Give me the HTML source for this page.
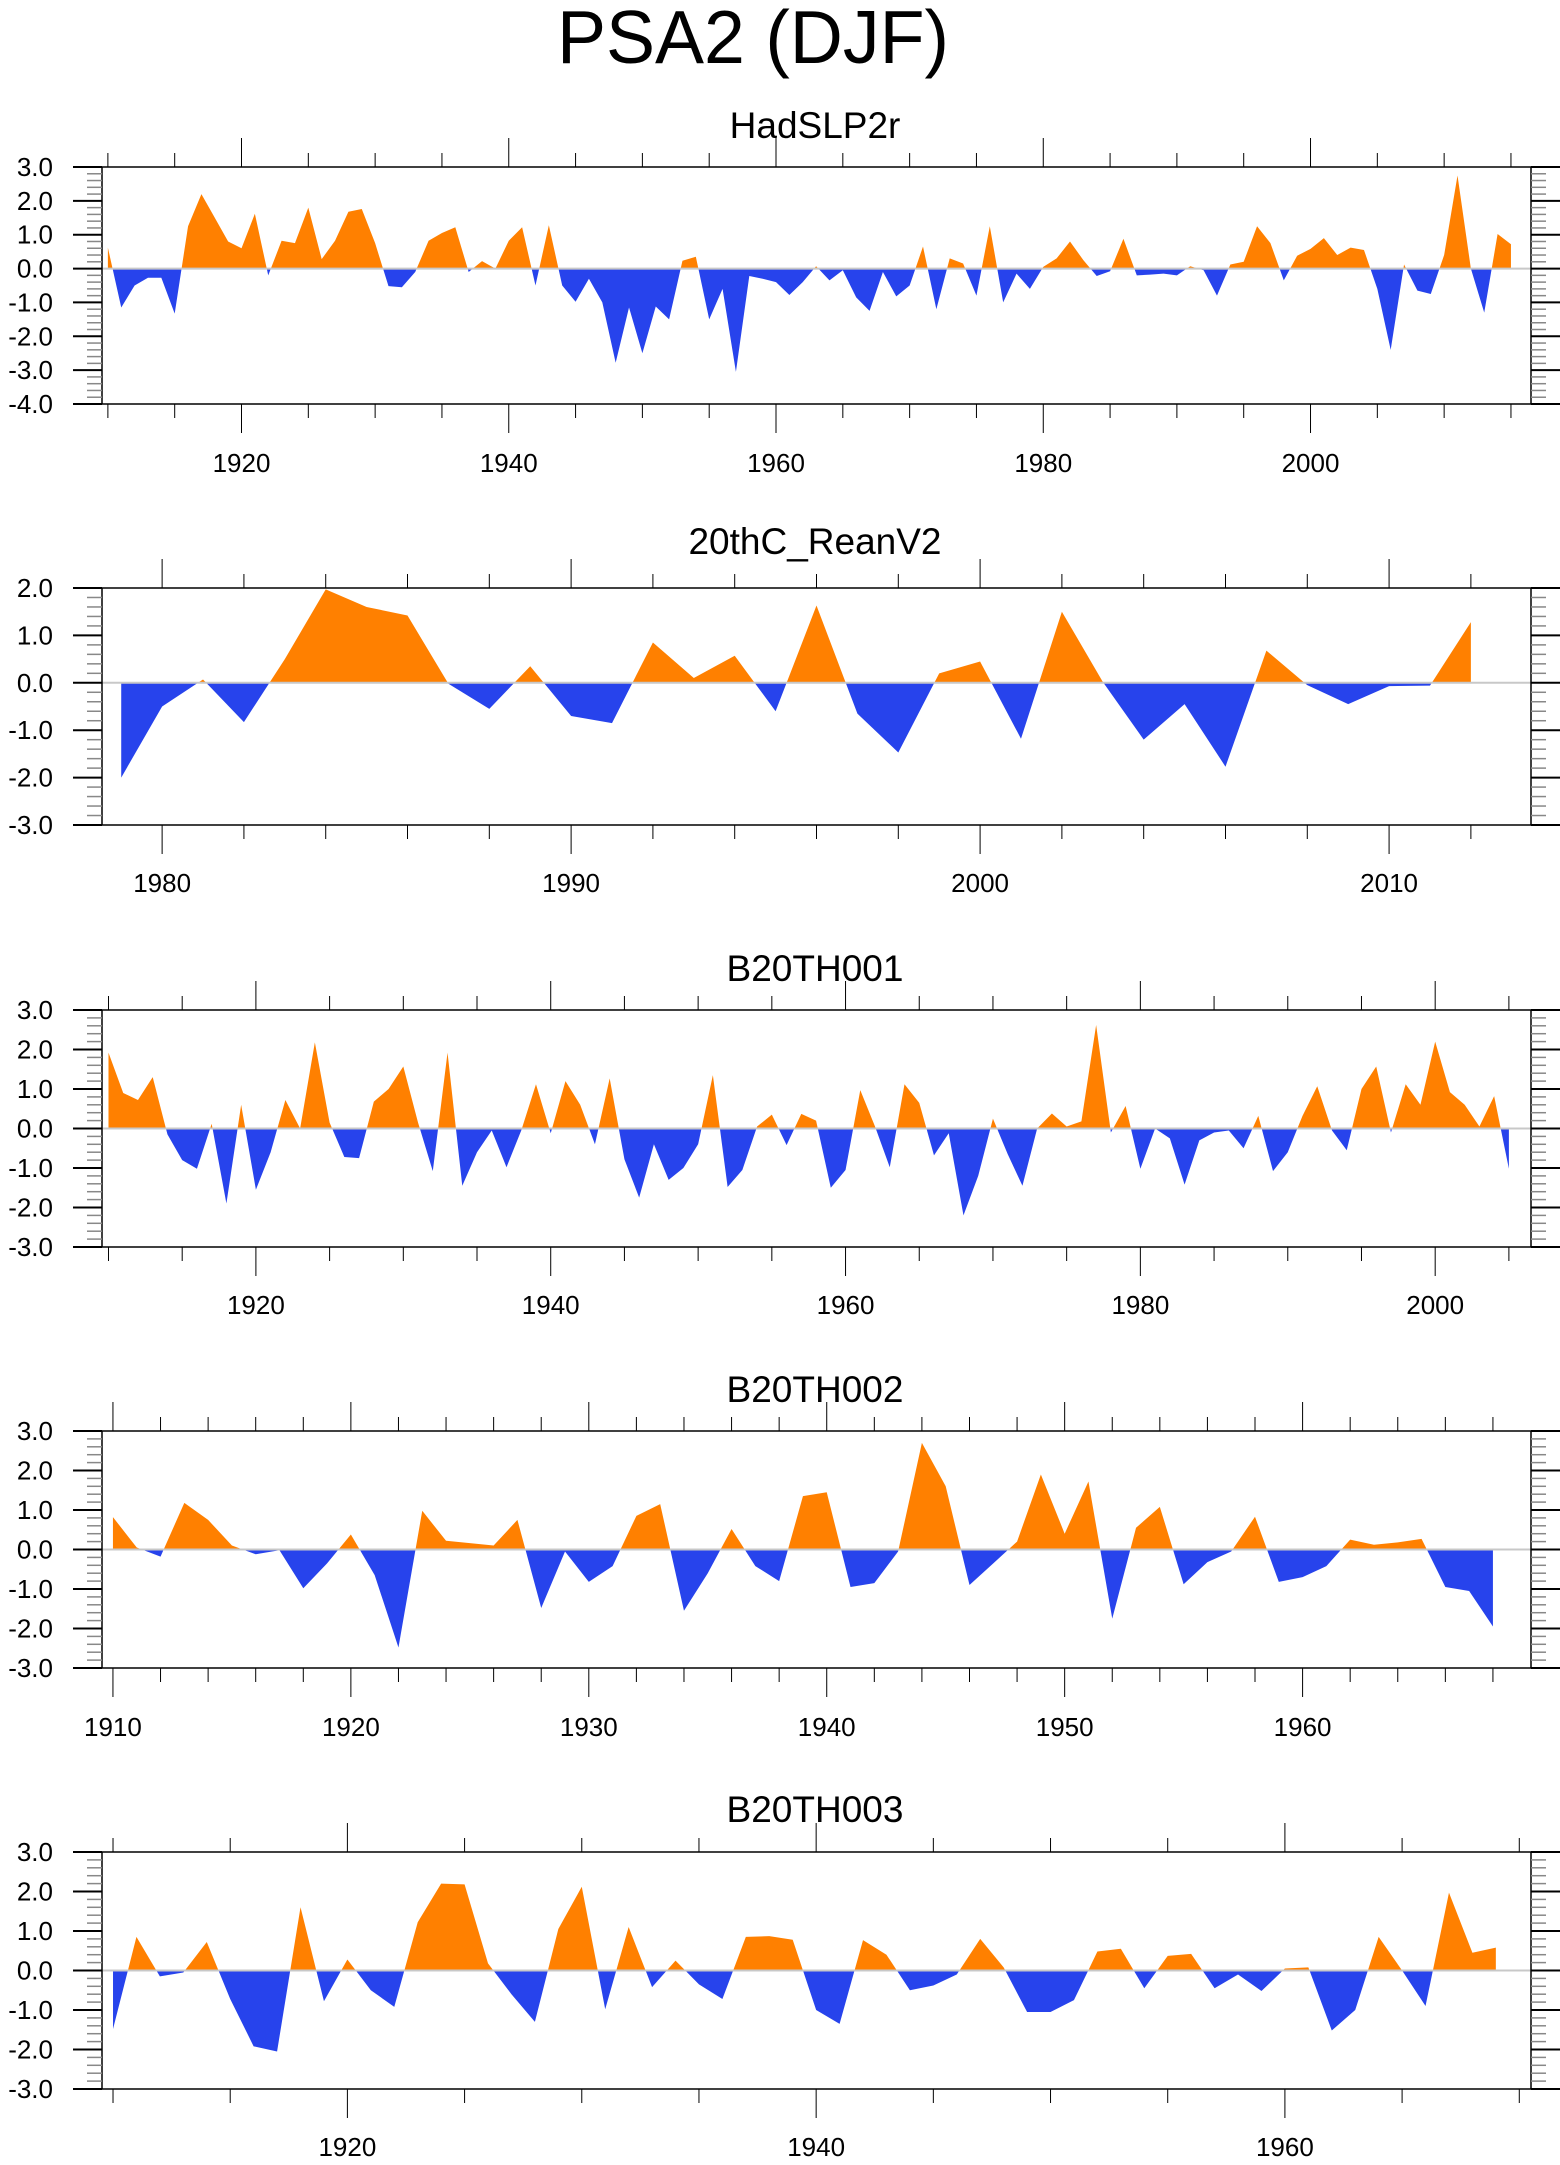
<!DOCTYPE html>
<html><head><meta charset="utf-8"><style>
html,body{margin:0;padding:0;background:#fff}
svg{display:block}
text{font-family:"Liberation Sans",Arial,sans-serif;fill:#000}
</style></head><body>
<svg id="chart" width="1560" height="2165" viewBox="0 0 1560 2165" xmlns="http://www.w3.org/2000/svg">
<text x="753" y="63" font-size="75" text-anchor="middle" textLength="392" lengthAdjust="spacingAndGlyphs">PSA2 (DJF)</text>
</svg>
<script>
const hadStart = 1910;
const hadValues = [0.62,-1.15,-0.5,-0.27,-0.27,-1.33,1.25,2.2,1.5,0.8,0.6,1.62,-0.2,0.82,0.75,1.8,0.28,0.82,1.68,1.76,0.75,-0.52,-0.55,-0.1,0.82,1.05,1.22,-0.1,0.22,0.0,0.82,1.22,-0.5,1.28,-0.5,-0.98,-0.3,-1.0,-2.78,-1.15,-2.5,-1.12,-1.5,0.23,0.35,-1.5,-0.6,-3.05,-0.22,-0.3,-0.4,-0.78,-0.4,0.07,-0.35,-0.05,-0.85,-1.25,-0.1,-0.82,-0.5,0.65,-1.2,0.3,0.15,-0.8,1.25,-1.0,-0.15,-0.6,0.05,0.3,0.8,0.25,-0.22,-0.08,0.88,-0.2,-0.18,-0.15,-0.2,0.07,-0.05,-0.8,0.12,0.2,1.25,0.75,-0.35,0.38,0.58,0.9,0.4,0.62,0.55,-0.6,-2.4,0.12,-0.65,-0.75,0.4,2.75,0.0,-1.3,1.02,0.72];
const reanStart = 1979;
const reanValues = [-2.0,-0.5,0.07,-0.83,0.5,1.97,1.6,1.42,-0.02,-0.55,0.35,-0.7,-0.85,0.85,0.1,0.57,-0.6,1.63,-0.65,-1.47,0.2,0.45,-1.18,1.5,0.02,-1.2,-0.45,-1.77,0.68,-0.05,-0.45,-0.07,-0.06,1.28];
const b1Start = 1910;
const b1Values = [1.92,0.9,0.72,1.3,-0.15,-0.8,-1.02,0.12,-1.9,0.6,-1.55,-0.6,0.72,0.0,2.18,0.15,-0.72,-0.75,0.68,1.0,1.57,0.15,-1.08,1.92,-1.45,-0.6,-0.05,-0.98,-0.05,1.12,-0.12,1.2,0.6,-0.4,1.27,-0.78,-1.75,-0.4,-1.3,-1.0,-0.4,1.35,-1.48,-1.05,0.05,0.35,-0.42,0.37,0.2,-1.5,-1.05,0.97,0.05,-0.98,1.12,0.65,-0.68,-0.12,-2.2,-1.2,0.25,-0.65,-1.45,0.0,0.38,0.05,0.18,2.62,-0.1,0.57,-1.02,0.0,-0.25,-1.42,-0.3,-0.1,-0.05,-0.5,0.32,-1.08,-0.6,0.32,1.07,-0.05,-0.55,1.0,1.57,-0.1,1.12,0.6,2.2,0.92,0.6,0.05,0.82,-1.02];
const b2Start = 1910;
const b2Values = [0.82,0.05,-0.18,1.18,0.75,0.1,-0.12,-0.02,-0.98,-0.35,0.38,-0.65,-2.48,0.98,0.22,0.16,0.1,0.75,-1.48,-0.05,-0.82,-0.42,0.85,1.15,-1.55,-0.6,0.52,-0.42,-0.8,1.35,1.45,-0.95,-0.85,-0.05,2.7,1.6,-0.9,-0.35,0.2,1.9,0.4,1.72,-1.75,0.55,1.08,-0.88,-0.32,-0.05,0.83,-0.82,-0.7,-0.42,0.25,0.12,0.18,0.27,-0.95,-1.05,-1.95];
const b3Start = 1910;
const b3Values = [-1.48,0.85,-0.15,-0.05,0.72,-0.72,-1.92,-2.05,1.6,-0.78,0.28,-0.5,-0.92,1.22,2.2,2.18,0.18,-0.6,-1.3,1.05,2.12,-0.98,1.1,-0.42,0.25,-0.35,-0.72,0.85,0.87,0.78,-1.0,-1.35,0.77,0.4,-0.5,-0.38,-0.1,0.8,0.08,-1.05,-1.05,-0.75,0.48,0.55,-0.45,0.37,0.42,-0.45,-0.1,-0.52,0.05,0.08,-1.52,-1.0,0.85,0.0,-0.9,1.97,0.45,0.58];

const panels = [
 {name:'hadslp2r',title:'HadSLP2r',start:hadStart,vals:hadValues,top:167,bot:404,ymax:3,ymin:-4,x0:1909.56,x1:2016.5,minor:5,major:20,titleY:138,labY:472},
 {name:'20thc-reanv2',title:'20thC_ReanV2',start:reanStart,vals:reanValues,top:588,bot:825,ymax:2,ymin:-3,x0:1978.53,x1:2013.47,minor:2,major:10,titleY:554,labY:892},
 {name:'b20th001',title:'B20TH001',start:b1Start,vals:b1Values,top:1010,bot:1247,ymax:3,ymin:-3,x0:1909.56,x1:2006.5,minor:5,major:20,titleY:981,labY:1314},
 {name:'b20th002',title:'B20TH002',start:b2Start,vals:b2Values,top:1431,bot:1668,ymax:3,ymin:-3,x0:1909.54,x1:1969.6,minor:2,major:10,titleY:1402,labY:1736},
 {name:'b20th003',title:'B20TH003',start:b3Start,vals:b3Values,top:1852,bot:2089,ymax:3,ymin:-3,x0:1909.53,x1:1970.5,minor:5,major:20,titleY:1822,labY:2156}
];
const NS='http://www.w3.org/2000/svg';
const svg=document.getElementById('chart');
const L=102,R=1531;
function mk(tag,attrs,parent){const e=document.createElementNS(NS,tag);for(const k in attrs)e.setAttribute(k,attrs[k]);(parent||svg).appendChild(e);return e;}
panels.forEach((p,pi)=>{
  const g=mk('g',{});
  
  
  const xs=v=>L+(v-p.x0)/(p.x1-p.x0)*(R-L);
  const ys=v=>p.top+(p.ymax-v)/(p.ymax-p.ymin)*(p.bot-p.top);
  const t=mk('text',{x:815,y:p.titleY,'font-size':37,'text-anchor':'middle'},g);
  t.textContent=p.title;
  
  
  const z=ys(0);
  const defs=mk('defs',{},g);
  const ca=mk('clipPath',{id:'ca'+pi},defs); mk('rect',{x:L,y:p.top,width:R-L,height:z-p.top},ca);
  const cb=mk('clipPath',{id:'cb'+pi},defs); mk('rect',{x:L,y:z,width:R-L,height:p.bot-z},cb);
  let d='M'+xs(p.start)+','+z;
  p.vals.forEach((v,i)=>{d+=' L'+xs(p.start+i).toFixed(2)+','+ys(v).toFixed(2);});
  d+=' L'+xs(p.start+p.vals.length-1)+','+z+' Z';
  const pos=mk('path',{d:d,fill:'#ff8000','clip-path':'url(#ca'+pi+')'},g);
  
  
  const neg=mk('path',{d:d,fill:'#2743ec','clip-path':'url(#cb'+pi+')'},g);
  
  
  const zl=mk('line',{x1:L,x2:R,y1:z,y2:z,stroke:'#c8c8c8','stroke-width':2},g);
  
  
  const box=mk('rect',{x:L,y:p.top,width:R-L,height:p.bot-p.top,fill:'none',stroke:'#000','stroke-width':1.5},g);
  
  
  const first=Math.ceil(p.x0/p.minor)*p.minor;
  for(let yr=first;yr<=p.x1;yr+=p.minor){
    const x=xs(yr),maj=yr%p.major===0,len=maj?29:14;
    mk('line',{x1:x,x2:x,y1:p.top,y2:p.top-len,stroke:'#000','stroke-width':1},g);
    mk('line',{x1:x,x2:x,y1:p.bot,y2:p.bot+len,stroke:'#000','stroke-width':1},g);
    if(maj){const tl=mk('text',{x:x,y:p.labY,'font-size':26,'text-anchor':'middle'},g);tl.textContent=yr;
      
      }
  }
  for(let k=Math.round(p.ymin*5);k<=Math.round(p.ymax*5);k++){
    const v=k/5,y=ys(v),maj=k%5===0;
    if(maj){
      mk('line',{x1:L-29,x2:L,y1:y,y2:y,stroke:'#000','stroke-width':2},g);
      mk('line',{x1:R,x2:R+29,y1:y,y2:y,stroke:'#000','stroke-width':2},g);
      const yl=mk('text',{x:53,y:y+9,'font-size':26,'text-anchor':'end'},g);yl.textContent=v.toFixed(1);
      
      
    } else {
      mk('line',{x1:L-15,x2:L,y1:y,y2:y,stroke:'#888','stroke-width':1.5},g);
      mk('line',{x1:R,x2:R+15,y1:y,y2:y,stroke:'#888','stroke-width':1.5},g);
    }
  }
});
</script>
</body></html>
